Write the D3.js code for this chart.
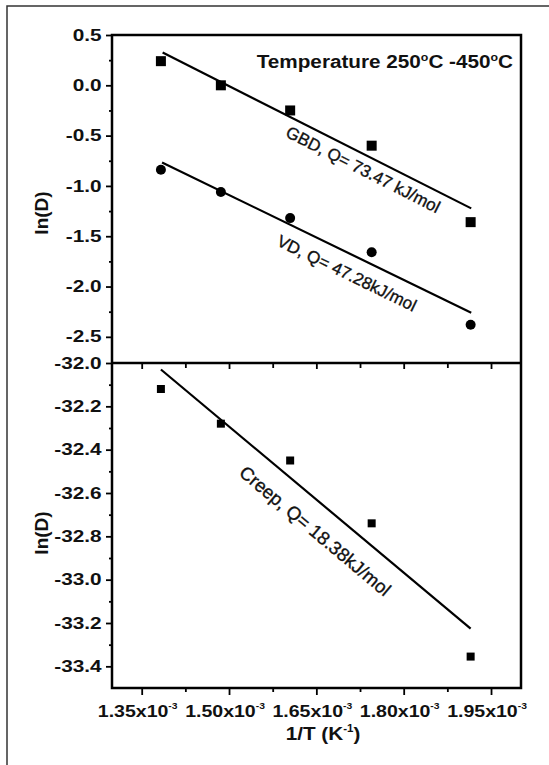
<!DOCTYPE html>
<html>
<head>
<meta charset="utf-8">
<script src="https://cdn.jsdelivr.net/npm/d3@7"></script>
<style>
    body { margin: 0; background: #fff; }
    svg { display: block; font-family: "Liberation Sans", Arial, sans-serif; }
</style>
</head>
<body>
<svg id="chart" width="549" height="765"></svg>
<script>
// 1/T in units of 1e-3 K^-1 (450, 400, 350, 300, 250 degC)
const invT = [1.383, 1.486, 1.605, 1.745, 1.915];
const gbd = [0.24, 0.0, -0.25, -0.60, -1.36];
const vd = [-0.84, -1.06, -1.32, -1.66, -2.38];
const creep = [-32.12, -32.28, -32.45, -32.74, -33.355];

// fitted lines, end points
const gbdFit = [[1.386, 0.326], [1.916, -1.223]];
const vdFit = [[1.385, -0.767], [1.916, -2.26]];
const creepFit = [[1.383, -32.03], [1.915, -33.226]];

const xTicks = [1.35, 1.50, 1.65, 1.80, 1.95];
const xTickLabels = ["1.35x10", "1.50x10", "1.65x10", "1.80x10", "1.95x10"];
const xMinor = [1.425, 1.575, 1.725, 1.875];
const topTicks = [0.5, 0.0, -0.5, -1.0, -1.5, -2.0, -2.5];
const topMinor = [0.25, -0.25, -0.75, -1.25, -1.75, -2.25];
const botTicks = [-32.0, -32.2, -32.4, -32.6, -32.8, -33.0, -33.2, -33.4];
const botMinor = [-32.1, -32.3, -32.5, -32.7, -32.9, -33.1, -33.3];

const notes = [
    {text: "GBD, Q= 73.47 kJ/mol", x: 1.730, y: -0.84, angle: 27, size: 17, panel: "top"},
    {text: "VD, Q= 47.28kJ/mol", x: 1.702, y: -1.87, angle: 26, size: 17, panel: "top"},
    {text: "Creep, Q= 18.38kJ/mol", x: 1.648, y: -32.775, angle: 40, size: 18.5, panel: "bot"}
];

const svg = d3.select("#chart");
const plot = {left: 112, right: 521, top: 35, mid: 363, bottom: 688};
const stretch = 1.15;   // the original figure is stretched sideways

const x = d3.scaleLinear().domain([1.299, 2.0015]).range([plot.left, plot.right]);
const yTop = d3.scaleLinear().domain([-2.76, 0.5]).range([plot.mid, plot.top]);
const yBot = d3.scaleLinear().domain([-33.5, -32.0]).range([plot.bottom, plot.mid]);

// outer picture frame
svg.append("path")
    .attr("d", "M7,765V6H549")
    .attr("fill", "none")
    .attr("stroke", "#333")
    .attr("stroke-width", 1.5);

function styleAxis(g) {
    g.select(".domain").remove();
    g.selectAll(".tick line").attr("stroke", "#000").attr("stroke-width", 1.8);
    g.selectAll(".tick text")
        .attr("fill", "#111")
        .attr("transform", "scale(1.3,1)")
        .style("font-size", "16px")
        .style("font-weight", "bold");
}

// y axes
[[yTop, topTicks, topMinor], [yBot, botTicks, botMinor]].forEach(([y, major, minor]) => {
    svg.append("g")
        .attr("transform", `translate(${plot.left},0)`)
        .call(d3.axisLeft(y).tickValues(major).tickSize(6).tickPadding(2).tickFormat(d => d.toFixed(1)))
        .call(styleAxis);
    svg.append("g")
        .attr("transform", `translate(${plot.left},0)`)
        .call(d3.axisLeft(y).tickValues(minor).tickSize(3).tickFormat(""))
        .call(styleAxis);
});

// x ticks: at the divider (top panel) and at the bottom
[[plot.mid, 6, 5], [plot.bottom, 7, 4]].forEach(([yPos, majorLen, minorLen]) => {
    svg.append("g")
        .attr("transform", `translate(0,${yPos})`)
        .call(d3.axisBottom(x).tickValues(xTicks).tickSize(majorLen).tickFormat(""))
        .call(styleAxis);
    svg.append("g")
        .attr("transform", `translate(0,${yPos})`)
        .call(d3.axisBottom(x).tickValues(xMinor).tickSize(minorLen).tickFormat(""))
        .call(styleAxis);
});

// x tick labels with superscript exponent
const xl = svg.append("g").selectAll("g")
    .data(xTicks)
    .enter().append("g")
    .attr("transform", d => `translate(${x(d) - 4},${plot.bottom + 29})`)
    .append("text")
    .attr("transform", `scale(${stretch},1)`)
    .attr("text-anchor", "middle")
    .attr("fill", "#111")
    .style("font-size", "17px")
    .style("font-weight", "bold");
xl.append("tspan").text((d, i) => xTickLabels[i]);
xl.append("tspan").attr("dy", -8).style("font-size", "9px").text("-3");

// frame and divider
svg.append("rect")
    .attr("x", plot.left).attr("y", plot.top)
    .attr("width", plot.right - plot.left).attr("height", plot.bottom - plot.top)
    .attr("fill", "none").attr("stroke", "#000").attr("stroke-width", 2.5);
svg.append("line")
    .attr("x1", plot.left).attr("x2", plot.right)
    .attr("y1", plot.mid).attr("y2", plot.mid)
    .attr("stroke", "#000").attr("stroke-width", 2.5);

// fit lines
function fitLine(pts, y) {
    svg.append("path")
        .datum(pts)
        .attr("fill", "none")
        .attr("stroke", "#000")
        .attr("stroke-width", 2.2)
        .attr("d", d3.line().x(d => x(d[0])).y(d => y(d[1])));
}
fitLine(gbdFit, yTop);
fitLine(vdFit, yTop);
fitLine(creepFit, yBot);

// markers
function squares(vals, y, size) {
    svg.append("g").selectAll("rect")
        .data(vals)
        .enter().append("rect")
        .attr("x", (d, i) => x(invT[i]) - size / 2)
        .attr("y", d => y(d) - size / 2)
        .attr("width", size)
        .attr("height", size)
        .attr("fill", "#000");
}
squares(gbd, yTop, 10);
squares(creep, yBot, 8);

svg.append("g").selectAll("circle")
    .data(vd)
    .enter().append("circle")
    .attr("cx", (d, i) => x(invT[i]))
    .attr("cy", d => yTop(d))
    .attr("r", 5)
    .attr("fill", "#000");

// rotated annotations (slightly heavier than regular weight)
svg.append("g").selectAll("text")
    .data(notes)
    .enter().append("text")
    .attr("transform", d => {
        const y = d.panel === "top" ? yTop : yBot;
        return `translate(${x(d.x)},${y(d.y)}) rotate(${d.angle})`;
    })
    .attr("text-anchor", "middle")
    .attr("dominant-baseline", "central")
    .attr("fill", "#111")
    .attr("stroke", "#111")
    .attr("stroke-width", 0.35)
    .style("font-size", d => d.size + "px")
    .text(d => d.text);

// temperature range label
const title = svg.append("g")
    .attr("transform", `translate(${plot.right - 8},68)`)
    .append("text")
    .attr("transform", "scale(1.12,1)")
    .attr("text-anchor", "end")
    .attr("fill", "#111")
    .style("font-size", "18.5px")
    .style("font-weight", "bold");
title.append("tspan").text("Temperature 250");
title.append("tspan").attr("dy", -7).style("font-size", "11px").text("o");
title.append("tspan").attr("dy", 7).text("C -450");
title.append("tspan").attr("dy", -7).style("font-size", "11px").text("o");
title.append("tspan").attr("dy", 7).text("C");

// axis titles
[213, 533].forEach(cy => {
    svg.append("text")
        .attr("transform", `translate(41,${cy}) rotate(-90)`)
        .attr("text-anchor", "middle")
        .attr("dominant-baseline", "central")
        .attr("fill", "#111")
        .style("font-size", "19px")
        .style("font-weight", "bold")
        .text("ln(D)");
});

const xt = svg.append("g")
    .attr("transform", "translate(323,740)")
    .append("text")
    .attr("transform", `scale(${stretch},1)`)
    .attr("text-anchor", "middle")
    .attr("fill", "#111")
    .style("font-size", "18px")
    .style("font-weight", "bold");
xt.append("tspan").text("1/T (K");
xt.append("tspan").attr("dy", -8).style("font-size", "10px").text("-1");
xt.append("tspan").attr("dy", 8).text(")");
</script>
</body>
</html>
